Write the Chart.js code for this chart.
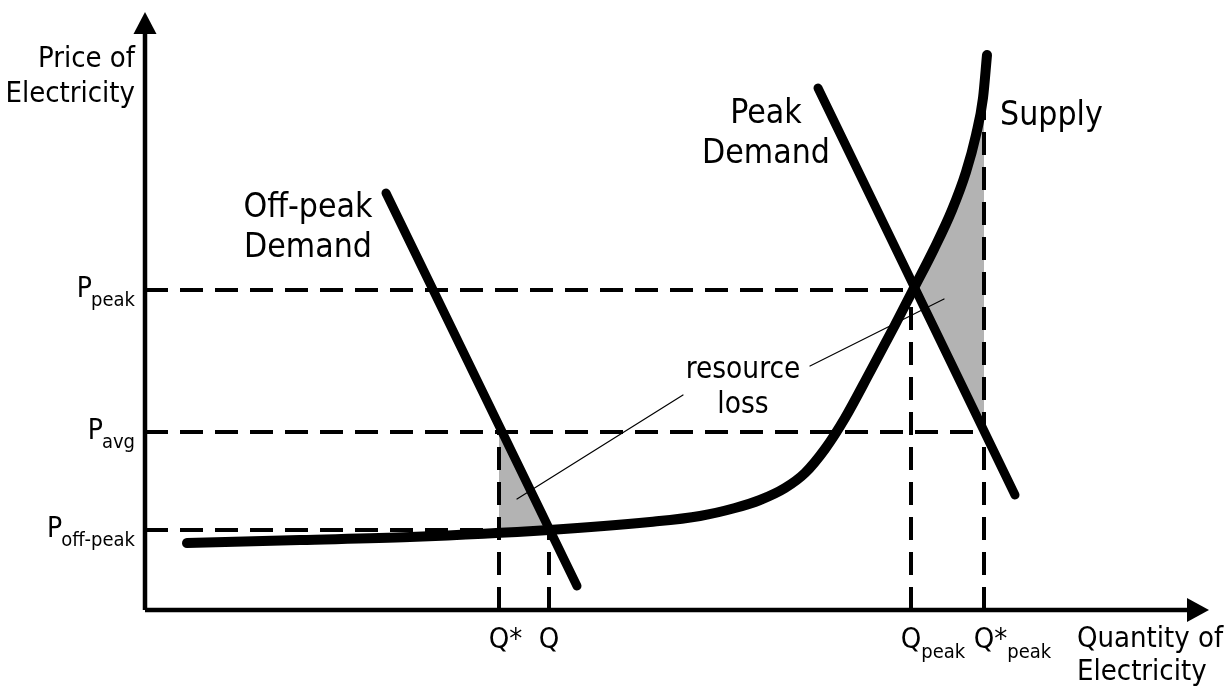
<!DOCTYPE html>
<html>
<head>
<meta charset="utf-8">
<script src="https://cdn.jsdelivr.net/npm/chart.js@4/dist/chart.umd.min.js"></script>
<style>
  html, body { margin: 0; padding: 0; background: #fff; }
  #wrap { width: 1230px; height: 686px; }
</style>
</head>
<body>
<div id="wrap"><canvas id="chart" width="1230" height="686"></canvas></div>
<script>
// price levels (y) and quantity levels (x)
const pPeak = 32.0, pAvg = 17.8, pOff = 8.0;
const qStar = 35.4, q = 40.4, qPeak = 76.6, qStarPeak = 83.9;

const supply = [
    [4.2, 6.7], [15.5, 7.0], [26.5, 7.3], [40.4, 8.0], [50.5, 8.8], [55.5, 9.4],
    [59.0, 10.2], [61.5, 11.0], [64.0, 12.2], [66.0, 13.7], [68.0, 16.1], [70.0, 19.2],
    [72.5, 23.8], [75.0, 28.5], [76.8, 32.0], [78.9, 36.1], [80.7, 40.0], [82.1, 43.8],
    [83.1, 47.5], [83.8, 51.2], [84.2, 55.5]
];
const offPeakDemand = [[24.1, 41.7], [43.2, 2.4]];
const peakDemand = [[67.3, 52.2], [87.0, 11.5]];

// shaded resource-loss areas
const lossOffPeak = [[qStar, pAvg], [qStar, 7.7], [q, pOff]];
const lossPeak = [[76.9, 32.25], [78.9, 36.1], [80.7, 40.0], [82.1, 43.8], [83.1, 47.5], [83.8, 51.2], [qStarPeak, 52.3], [qStarPeak, pAvg]];

// leader lines from "resource loss"
const leader1 = [[37.2, 11.1], [53.8, 21.5]];
const leader2 = [[66.5, 24.4], [79.9, 31.1]];

const priceTicks = [
    { main: 'P', sub: 'peak', value: pPeak },
    { main: 'P', sub: 'avg', value: pAvg },
    { main: 'P', sub: 'off-peak', value: pOff }
];
const qtyTicks = [
    { main: 'Q', extra: '*', sub: '', value: qStar },
    { main: 'Q', extra: '', sub: '', value: q },
    { main: 'Q', extra: '', sub: 'peak', value: qPeak },
    { main: 'Q', extra: '*', sub: 'peak', value: qStarPeak }
];

const X_MAX = 106.4, Y_MAX = 59.8;
const FONT = '"DejaVu Sans Condensed", "DejaVu Sans", sans-serif';

const pts = arr => arr.map(p => ({ x: p[0], y: p[1] }));

function line(data, width, extra) {
    return Object.assign({
        data: pts(data),
        showLine: true,
        borderColor: '#000',
        borderWidth: width,
        pointRadius: 0,
        fill: false,
        clip: false,
        tension: 0,
        borderCapStyle: 'round',
        borderJoinStyle: 'round',
    }, extra || {});
}

function dashed(data) {
    return line(data, 4, { borderDash: [23, 12], borderCapStyle: 'butt', order: 4 });
}

function area(data) {
    return {
        data: pts(data),
        showLine: true,
        borderWidth: 0,
        borderColor: 'rgba(0,0,0,0)',
        backgroundColor: '#b3b3b3',
        pointRadius: 0,
        fill: 'shape',
        clip: false,
        order: 6,
    };
}

const datasets = [
    area(lossOffPeak),
    area(lossPeak),
    dashed([[0, pPeak], [qPeak, pPeak]]),
    dashed([[0, pAvg], [qStarPeak, pAvg]]),
    dashed([[0, pOff], [q, pOff]]),
    dashed([[qStar, 0], [qStar, pAvg]]),
    dashed([[q, 0], [q, pOff]]),
    dashed([[qPeak, 0], [qPeak, pPeak]]),
    dashed([[qStarPeak, 0], [qStarPeak, 53.0]]),
    line([[0, 0], [X_MAX - 2, 0]], 4.5, { borderCapStyle: 'butt', order: 3 }),
    line([[0, 0], [0, Y_MAX - 2]], 4.5, { borderCapStyle: 'butt', order: 3 }),
    line(supply, 10, { cubicInterpolationMode: 'monotone', order: 2 }),
    line(offPeakDemand, 9, { order: 2 }),
    line(peakDemand, 9, { order: 2 }),
    line(leader1, 1.2, { order: 1 }),
    line(leader2, 1.2, { order: 1 }),
];

const textLabels = [
    { lines: ['Price of', 'Electricity'], x: 0, y: Y_MAX, dx: -10, dy: 55, gap: 35, size: 29, align: 'right' },
    { lines: ['Quantity of', 'Electricity'], x: X_MAX, y: 0, dx: -132, dy: 37, gap: 33, size: 29, align: 'left' },
    { lines: ['Off-peak', 'Demand'], x: 16.3, y: 39.3, dx: 0, dy: 0, gap: 40, size: 33.5, align: 'center' },
    { lines: ['Peak', 'Demand'], x: 62.1, y: 48.7, dx: 0, dy: 0, gap: 40, size: 33.5, align: 'center' },
    { lines: ['Supply'], x: 85.5, y: 48.5, dx: 0, dy: 0, gap: 0, size: 33.5, align: 'left' },
    { lines: ['resource', 'loss'], x: 59.8, y: 23.2, dx: 0, dy: 0, gap: 35, size: 29.5, align: 'center' },
];

const diagramPlugin = {
    id: 'diagram',
    afterDatasetsDraw(chart) {
        const ctx = chart.ctx;
        const xs = chart.scales.x, ys = chart.scales.y;
        const x0 = xs.getPixelForValue(0), y0 = ys.getPixelForValue(0);
        ctx.save();
        ctx.fillStyle = '#000';

        // arrow heads
        const tipY = ys.getPixelForValue(Y_MAX);
        ctx.beginPath();
        ctx.moveTo(x0, tipY);
        ctx.lineTo(x0 + 11.5, tipY + 22);
        ctx.lineTo(x0 - 11.5, tipY + 22);
        ctx.closePath();
        ctx.fill();
        const tipX = xs.getPixelForValue(X_MAX);
        ctx.beginPath();
        ctx.moveTo(tipX, y0);
        ctx.lineTo(tipX - 22, y0 - 12);
        ctx.lineTo(tipX - 22, y0 + 12);
        ctx.closePath();
        ctx.fill();

        ctx.textBaseline = 'alphabetic';

        // price ticks: P with subscript, right aligned to the axis
        priceTicks.forEach(t => {
            const y = ys.getPixelForValue(t.value);
            ctx.font = '20px ' + FONT;
            const ws = ctx.measureText(t.sub).width;
            ctx.textAlign = 'left';
            ctx.fillText(t.sub, x0 - 10 - ws, y + 16);
            ctx.font = '28px ' + FONT;
            const wm = ctx.measureText(t.main).width;
            ctx.fillText(t.main, x0 - 10 - ws - wm + 1, y + 7);
        });

        // quantity ticks: Q centred on the dashed line
        qtyTicks.forEach(t => {
            const x = xs.getPixelForValue(t.value);
            ctx.font = '29px ' + FONT;
            ctx.textAlign = 'left';
            const wq = ctx.measureText(t.main).width;
            let cx = x - wq / 2;
            ctx.fillText(t.main + t.extra, cx, y0 + 38);
            cx += ctx.measureText(t.main + t.extra).width;
            if (t.sub) {
                ctx.font = '20px ' + FONT;
                ctx.fillText(t.sub, cx, y0 + 48);
            }
        });

        // free text
        textLabels.forEach(l => {
            ctx.font = l.size + 'px ' + FONT;
            ctx.textAlign = l.align;
            const x = xs.getPixelForValue(l.x) + l.dx;
            const y = ys.getPixelForValue(l.y) + l.dy;
            l.lines.forEach((s, i) => ctx.fillText(s, x, y + i * l.gap));
        });
        ctx.restore();
    }
};

new Chart(document.getElementById('chart').getContext('2d'), {
    type: 'scatter',
    data: { datasets: datasets },
    options: {
        responsive: false,
        animation: false,
        layout: { padding: { left: 145, right: 21, top: 12, bottom: 76 } },
        plugins: {
            legend: { display: false },
            tooltip: { enabled: false },
        },
        scales: {
            x: { type: 'linear', min: 0, max: X_MAX, display: false },
            y: { type: 'linear', min: 0, max: Y_MAX, display: false },
        },
    },
    plugins: [diagramPlugin],
});
</script>
</body>
</html>
